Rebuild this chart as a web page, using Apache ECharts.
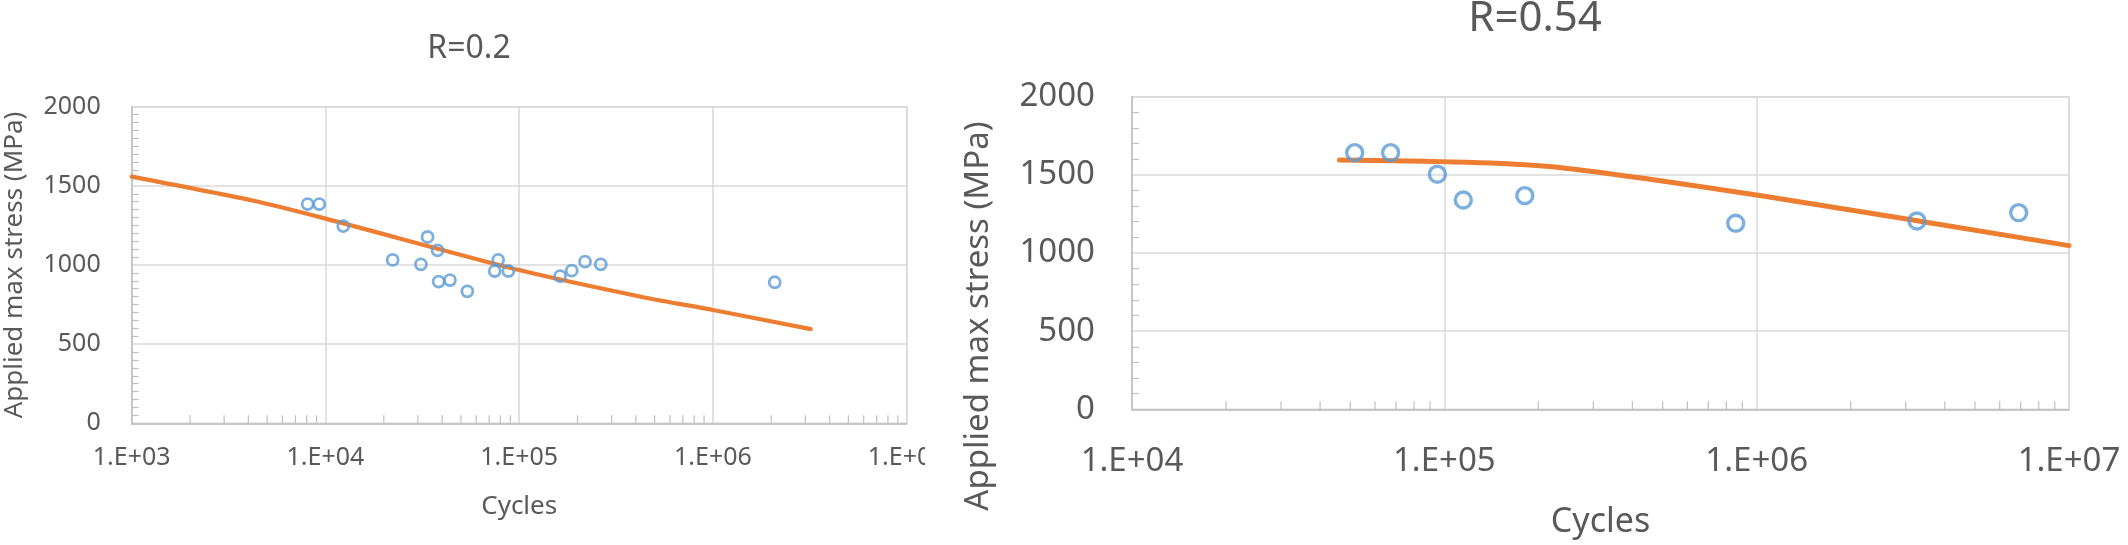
<!DOCTYPE html>
<html>
<head>
<meta charset="utf-8">
<script src="https://cdn.jsdelivr.net/npm/echarts@6/dist/echarts.min.js"></script>
<style>
  html, body { margin: 0; padding: 0; background: #ffffff; }
  #wrap { position: relative; width: 2128px; height: 545px; overflow: hidden; }
  #left { position: absolute; left: 0; top: 0; width: 925px; height: 545px; }
  #right { position: absolute; left: 925px; top: 0; width: 1203px; height: 545px; }
</style>
</head>
<body>
<div id="wrap"><div id="left"></div><div id="right"></div></div>
<script>
// ---- R = 0.2 ----
const cyclesR02 = [8090, 9290, 12360, 22230, 31100, 33650, 37900, 38400, 43900, 54000, 74700, 77900, 87900, 162600, 186700, 218600, 263600, 2084000];
const stressR02 = [1385, 1385, 1246, 1032, 1004, 1177, 1093, 895, 905, 834, 962, 1032, 962, 930, 964, 1021, 1004, 891];
const fitCyclesR02 = [1000, 4200, 10000, 100000, 450000, 1000000, 3200000];
const fitStressR02 = [1558, 1407, 1293, 968, 793, 716, 595];

// ---- R = 0.54 ----
const cyclesR054 = [51650, 67300, 95000, 115000, 181000, 857000, 3260000, 6900000];
const stressR054 = [1642, 1642, 1504, 1339, 1367, 1190, 1205, 1258];
const fitCyclesR054 = [46150, 207000, 1000000, 10000000];
const fitStressR054 = [1595, 1557, 1371, 1047];

const yTicks = [0, 500, 1000, 1500, 2000];
const titles = ['R=0.2', 'R=0.54'];
const xName = 'Cycles';
const yName = 'Applied max stress (MPa)';

const FONT = 'Noto Sans';
const TXT = '#595959';
const GRID = '#d9d9d9';
const AXIS = '#bfbfbf';
const BLUE = '#5B9BD5';
const ORANGE = '#ED7D31';

function zip(a, b) { return a.map((v, i) => [v, b[i]]); }
function sciLabel(v) {
  const e = Math.round(Math.log10(v));
  return '1.E+' + (e < 10 ? '0' : '') + e;
}
function minorTickValues(minExp, maxExp) {
  const out = [];
  for (let e = minExp; e < maxExp; e++) {
    for (let m = 2; m <= 9; m++) out.push([m * Math.pow(10, e)]);
  }
  return out;
}

function buildOption(cfg) {
  const graphic = [{
    type: 'text', x: cfg.titleX, y: cfg.titleY, silent: true,
    style: { text: cfg.title, fontFamily: FONT, fontSize: cfg.titleSize, fill: TXT,
             textAlign: 'center', textVerticalAlign: 'middle' }
  }];
  if (cfg.yNameGraphic) {
    graphic.push({
      type: 'text', x: cfg.yNameGraphic.x, y: cfg.yNameGraphic.y, rotation: Math.PI / 2, silent: true,
      style: { text: yName, fontFamily: FONT, fontSize: cfg.yNameGraphic.size, fill: TXT,
               textAlign: 'center', textVerticalAlign: 'middle' }
    });
  }
  return {
    animation: false,
    backgroundColor: '#ffffff',
    graphic: graphic,
    grid: {
      left: cfg.grid.left, top: cfg.grid.top, width: cfg.grid.width, height: cfg.grid.height,
      show: true, borderColor: GRID, borderWidth: 1.5, containLabel: false, outerBoundsMode: 'none'
    },
    xAxis: {
      type: 'log', logBase: 10, min: cfg.xMin, max: cfg.xMax,
      name: xName, nameLocation: 'middle', nameGap: cfg.xNameGap,
      nameTextStyle: { fontFamily: FONT, fontSize: cfg.nameSize, color: TXT },
      axisLine: { show: true, lineStyle: { color: AXIS, width: 1.5 } },
      axisTick: { show: false },
      minorTick: { show: false },
      splitLine: { show: true, lineStyle: { color: GRID, width: 1.5 } },
      axisLabel: { formatter: sciLabel, fontFamily: FONT, fontSize: cfg.labelSize, color: TXT, margin: cfg.xLabelMargin,
                   showMinLabel: true, showMaxLabel: true, hideOverlap: false }
    },
    yAxis: {
      type: 'value', min: yTicks[0], max: yTicks[yTicks.length - 1], interval: yTicks[1] - yTicks[0],
      name: cfg.yNameGraphic ? '' : yName, nameLocation: 'middle', nameGap: cfg.yNameGap,
      nameTextStyle: { fontFamily: FONT, fontSize: cfg.nameSize, color: TXT },
      axisLine: { show: true, lineStyle: { color: AXIS, width: 1.5 } },
      axisTick: { show: false, inside: true },
      minorTick: { show: true, splitNumber: cfg.yMinorSplit, length: 7, lineStyle: { color: AXIS, width: 1.2 } },
      minorSplitLine: { show: false },
      splitLine: { show: true, lineStyle: { color: GRID, width: 1.5 } },
      axisLabel: { formatter: function (v) { return String(v); },
                   fontFamily: FONT, fontSize: cfg.labelSize, color: TXT, margin: cfg.yLabelMargin }
    },
    series: [
      {
        type: 'custom', silent: true, z: 1,
        data: minorTickValues(Math.round(Math.log10(cfg.xMin)), Math.round(Math.log10(cfg.xMax))),
        encode: { x: 0 },
        renderItem: function (params, api) {
          const p = api.coord([api.value(0), 0]);
          return { type: 'line', shape: { x1: p[0], y1: p[1], x2: p[0], y2: p[1] - 8 },
                   style: { stroke: AXIS, lineWidth: 1.2 } };
        }
      },
      {
        type: 'line', data: zip(cfg.fitX, cfg.fitY), showSymbol: false, symbol: 'none',
        smooth: 0.25, z: 3,
        lineStyle: { color: ORANGE, width: cfg.lineWidth, cap: 'round' }
      },
      {
        type: 'scatter', data: zip(cfg.ptX, cfg.ptY), symbol: 'circle', symbolSize: cfg.symbolSize, z: 4,
        itemStyle: { color: 'rgba(255,255,255,0)', borderColor: BLUE, borderWidth: cfg.symbolBorder }
      }
    ]
  };
}

const leftChart = echarts.init(document.getElementById('left'), null, { renderer: 'canvas' });
leftChart.setOption(buildOption({
  title: titles[0], titleX: 469, titleY: 49, titleSize: 32,
  grid: { left: 131.7, top: 106.7, width: 775, height: 316.6 },
  xMin: 1e3, xMax: 1e7,
  labelSize: 25, nameSize: 26, xLabelMargin: 22, yLabelMargin: 31,
  xNameGap: 70, yNameGap: 104, yMinorSplit: 10,
  fitX: fitCyclesR02, fitY: fitStressR02, ptX: cyclesR02, ptY: stressR02,
  lineWidth: 4.2, symbolSize: 11, symbolBorder: 2.8
}));

const rightChart = echarts.init(document.getElementById('right'), null, { renderer: 'canvas' });
rightChart.setOption(buildOption({
  title: titles[1], titleX: 1535 - 925, titleY: 19, titleSize: 42,
  grid: { left: 1132 - 925, top: 96.7, width: 937, height: 312.6 },
  xMin: 1e4, xMax: 1e7,
  labelSize: 33, nameSize: 34, xLabelMargin: 36, yLabelMargin: 37,
  xNameGap: 96, yNameGap: 137, yMinorSplit: 5,
  yNameGraphic: { x: 979 - 925, y: 316, size: 33 },
  fitX: fitCyclesR054, fitY: fitStressR054, ptX: cyclesR054, ptY: stressR054,
  lineWidth: 5, symbolSize: 16, symbolBorder: 3.4
}));
</script>
</body>
</html>
